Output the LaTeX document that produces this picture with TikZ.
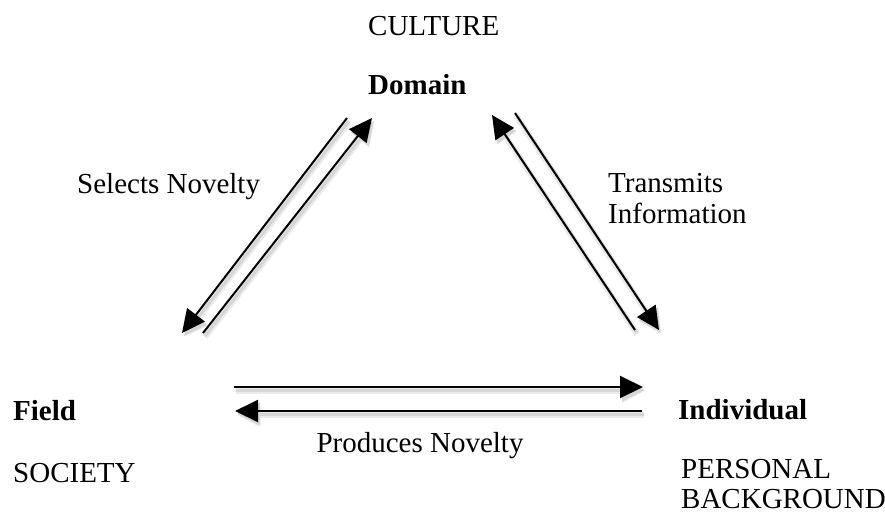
\documentclass[tikz,border=0pt]{standalone}
\usepackage{fontspec}
\setmainfont{Liberation Serif}
\usetikzlibrary{arrows.meta}
\begin{document}
\begin{tikzpicture}[x=1pt,y=-1pt,
  lbl/.style={anchor=base west, inner sep=0pt, font=\fontsize{29}{31}\selectfont},
  bl/.style={lbl, font=\fontsize{29}{31}\selectfont\bfseries},
  arr/.style={line width=2pt, -{Triangle[length=23pt,width=22pt]},
    preaction={draw=black!8, line width=6pt, transform canvas={shift={(2,4)}}},
    preaction={draw=black!16, line width=3pt, transform canvas={shift={(2,3)}}}},
  ln/.style={line width=2pt,
    preaction={draw=black!8, line width=6pt, transform canvas={shift={(2,4)}}},
    preaction={draw=black!16, line width=3pt, transform canvas={shift={(2,3)}}}}]
\useasboundingbox (0,0) rectangle (885,515);
% texts
\node[lbl] (culture) at (368,35) {CULTURE};
\node[bl] (domain) at (368,94) {Domain};
\node[lbl] (selects) at (77,193) {Selects Novelty};
\node[lbl] (transmits) at (608,192) {Transmits};
\node[lbl] (information) at (608,223) {Information};
\node[bl] (field) at (13,420) {Field};
\node[lbl] (society) at (13,482) {SOCIETY};
\node[bl] (individual) at (678,419) {Individual};
\node[lbl] (personal) at (681,478) {PERSONAL};
\node[lbl] (background) at (681,508) {BACKGROUND};
\node[lbl, anchor=base] (produces) at (420,452) {Produces Novelty};
% connector end points
\coordinate (l1s) at (347,118); \coordinate (l1e) at (182,333);
\coordinate (l2s) at (203,333); \coordinate (l2e) at (372,118);
\coordinate (rAs) at (635,330); \coordinate (rAe) at (492,115);
\coordinate (rBs) at (515,113); \coordinate (rBe) at (659,330);
\coordinate (hts) at (234,387); \coordinate (hte) at (643,387);
\coordinate (hbs) at (642,411); \coordinate (hbe) at (235,411);
% connectors
\draw[arr] (l1s) -- (l1e);
\draw[arr] (l2s) -- (l2e);
\draw[arr] (rAs) -- (rAe);
\draw[arr] (rBs) -- (rBe);
\draw[arr] (hts) -- (hte);
\draw[arr] (hbs) -- (hbe);
\end{tikzpicture}
\end{document}
